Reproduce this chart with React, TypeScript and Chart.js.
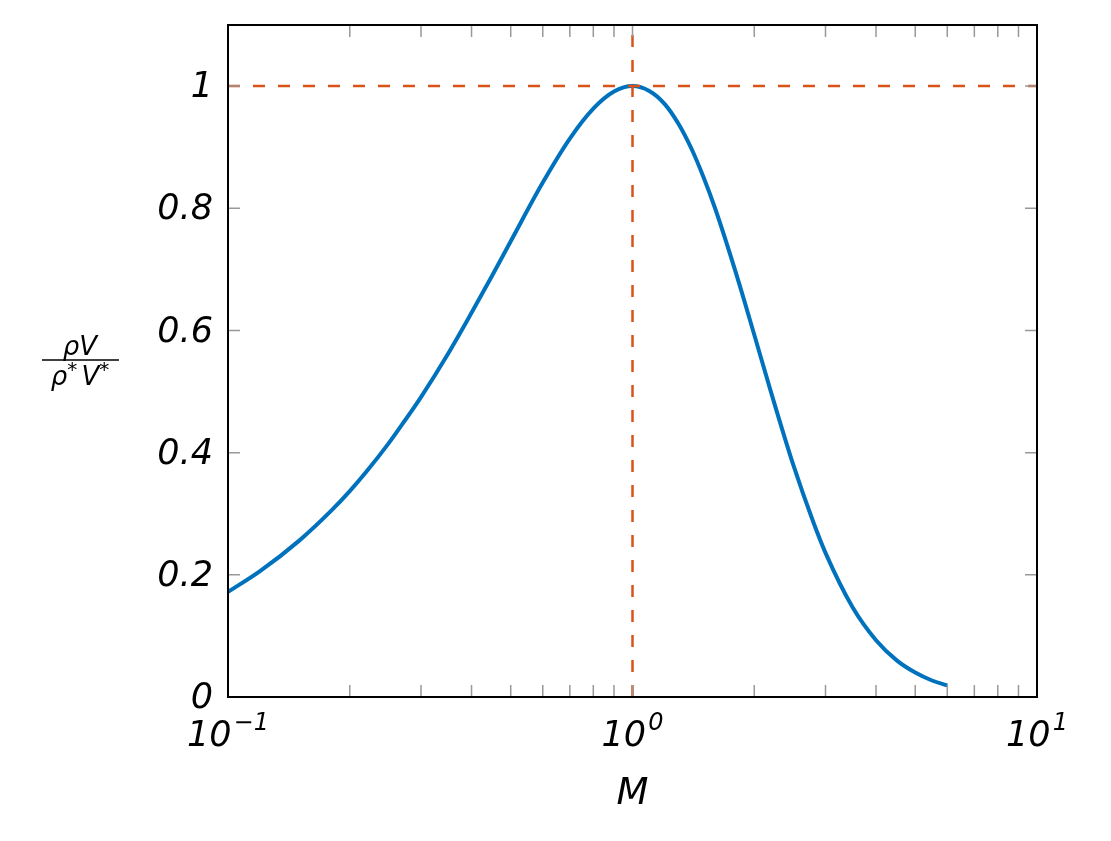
// App.tsx
import React, { useEffect, useRef } from 'react';
import { Chart, registerables, Plugin } from 'chart.js';

Chart.register(...registerables);

// Mach number and mass flux ratio
const machValues = [0.1, 0.12, 0.15, 0.18, 0.2, 0.22, 0.25, 0.27, 0.3, 0.35, 0.4, 0.45, 0.5, 0.6, 0.7, 0.8, 0.9, 1.0,
  1.1, 1.2, 1.3, 1.4, 1.5, 1.6, 1.8, 2.0, 2.2, 2.5, 2.8, 3.0, 3.5, 4.0, 4.5, 5.0, 5.5, 6.0];
const fluxValues = [0.172, 0.206, 0.256, 0.305, 0.337, 0.369, 0.416, 0.447, 0.491, 0.562, 0.629, 0.690, 0.746, 0.842, 0.914, 0.963, 0.991, 1.0,
  0.992, 0.971, 0.938, 0.897, 0.850, 0.800, 0.695, 0.593, 0.499, 0.379, 0.286, 0.236, 0.147, 0.093, 0.060, 0.040, 0.027, 0.019];

const refMach = 1;
const refFlux = 1;

const yTicks = [0, 0.2, 0.4, 0.6, 0.8, 1];
const yTickLabels = ['0', '0.2', '0.4', '0.6', '0.8', '1'];
const xDecadeExps = [-1, 0, 1];
const xMinorMultipliers = [2, 3, 4, 5, 6, 7, 8, 9];

const BLUE = '#0072BD';
const ORANGE = '#D95319';
const FONT = '"DejaVu Sans", sans-serif';

const framePlugin: Plugin<'line'> = {
  id: 'frame',
  afterDraw(chart) {
    const { ctx, chartArea: a } = chart;
    const xs = chart.scales.x;
    const ys = chart.scales.y;
    ctx.save();

    // inside ticks
    ctx.strokeStyle = '#999';
    ctx.lineWidth = 1.5;
    const tl = 12;
    ctx.beginPath();
    xDecadeExps.slice(0, -1).forEach((e) => {
      xMinorMultipliers.forEach((m) => {
        const px = xs.getPixelForValue(m * Math.pow(10, e));
        ctx.moveTo(px, a.bottom); ctx.lineTo(px, a.bottom - tl);
        ctx.moveTo(px, a.top); ctx.lineTo(px, a.top + tl);
      });
    });
    xDecadeExps.forEach((e) => {
      const px = xs.getPixelForValue(Math.pow(10, e));
      ctx.moveTo(px, a.bottom); ctx.lineTo(px, a.bottom - tl);
      ctx.moveTo(px, a.top); ctx.lineTo(px, a.top + tl);
    });
    yTicks.forEach((v) => {
      const py = ys.getPixelForValue(v);
      ctx.moveTo(a.left, py); ctx.lineTo(a.left + tl, py);
      ctx.moveTo(a.right, py); ctx.lineTo(a.right - tl, py);
    });
    ctx.stroke();

    // frame
    ctx.strokeStyle = '#000';
    ctx.lineWidth = 2;
    ctx.strokeRect(a.left, a.top, a.right - a.left, a.bottom - a.top);

    // y tick labels
    ctx.fillStyle = '#000';
    ctx.font = `italic 35px ${FONT}`;
    ctx.textAlign = 'right';
    ctx.textBaseline = 'middle';
    yTicks.forEach((v, i) => {
      ctx.fillText(yTickLabels[i], a.left - 15, ys.getPixelForValue(v) + 2);
    });

    // x tick labels 10^e
    ctx.textBaseline = 'alphabetic';
    xDecadeExps.forEach((e) => {
      const px = xs.getPixelForValue(Math.pow(10, e));
      const exp = e < 0 ? '\u2212' + Math.abs(e) : String(e);
      ctx.font = `italic 35px ${FONT}`;
      const wb = ctx.measureText('10').width;
      ctx.font = `italic 24px ${FONT}`;
      const we = ctx.measureText(exp).width;
      const x0 = px - (wb + we + 2) / 2;
      ctx.textAlign = 'left';
      ctx.font = `italic 35px ${FONT}`;
      ctx.fillText('10', x0, a.bottom + 49);
      ctx.font = `italic 24px ${FONT}`;
      ctx.fillText(exp, x0 + wb + 2, a.bottom + 33);
    });

    // axis titles
    ctx.textAlign = 'center';
    ctx.font = `italic 37px ${FONT}`;
    ctx.fillText('M', (a.left + a.right) / 2, a.bottom + 107);

    // y title as a fraction: rho V over rho* V*
    const cx = 80;
    ctx.font = `italic 26px ${FONT}`;
    ctx.fillText('\u03C1V', cx, 355);
    const parts: [string, number, number][] = [
      ['\u03C1', 26, 0], ['*', 20, -9], [' ', 14, 0], ['V', 26, 0], ['*', 20, -9],
    ];
    let total = 0;
    parts.forEach(([t, s]) => { ctx.font = `italic ${s}px ${FONT}`; total += ctx.measureText(t).width; });
    let x = cx - total / 2;
    ctx.textAlign = 'left';
    parts.forEach(([t, s, dy]) => {
      ctx.font = `italic ${s}px ${FONT}`;
      ctx.fillText(t, x, 385 + dy);
      x += ctx.measureText(t).width;
    });
    ctx.lineWidth = 1.5;
    ctx.beginPath();
    ctx.moveTo(42, 360);
    ctx.lineTo(119, 360);
    ctx.stroke();

    ctx.restore();
  },
};

const App: React.FC = () => {
  const canvasRef = useRef<HTMLCanvasElement | null>(null);

  useEffect(() => {
    document.body.style.margin = '0';
    if (!canvasRef.current) return;
    const chart = new Chart(canvasRef.current, {
      type: 'line',
      data: {
        datasets: [
          {
            data: [{ x: 0.1, y: refFlux }, { x: 10, y: refFlux }],
            borderColor: ORANGE,
            borderWidth: 2.5,
            borderDash: [12, 13],
            pointRadius: 0,
          },
          {
            data: [{ x: refMach, y: 0 }, { x: refMach, y: 1.1 }],
            borderColor: ORANGE,
            borderWidth: 2.5,
            borderDash: [12, 13],
            pointRadius: 0,
          },
          {
            data: machValues.map((m, i) => ({ x: m, y: fluxValues[i] })),
            borderColor: BLUE,
            borderWidth: 4,
            pointRadius: 0,
            cubicInterpolationMode: 'monotone',
          },
        ],
      },
      options: {
        responsive: false,
        animation: false,
        devicePixelRatio: 1,
        layout: { padding: { left: 228, top: 25, right: 74, bottom: 144 } },
        plugins: { legend: { display: false }, tooltip: { enabled: false } },
        scales: {
          x: { type: 'logarithmic', min: 0.1, max: 10, display: false },
          y: { type: 'linear', min: 0, max: 1.1, display: false },
        },
      },
      plugins: [framePlugin],
    });
    return () => chart.destroy();
  }, []);

  return <canvas ref={canvasRef} width={1111} height={841} />;
};

export default App;
